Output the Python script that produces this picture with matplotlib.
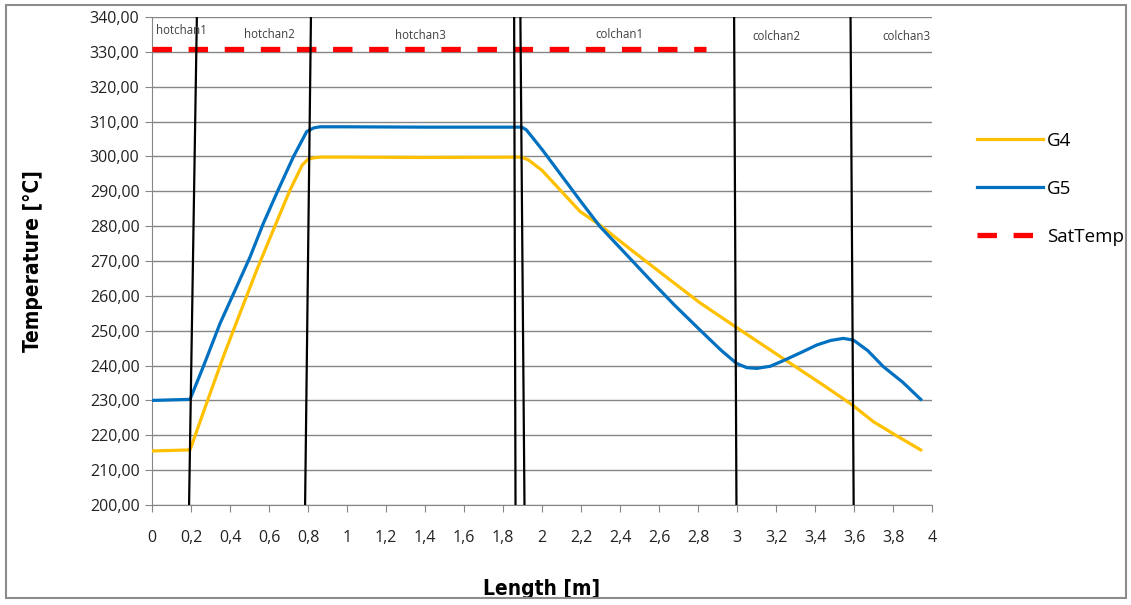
import matplotlib
matplotlib.use("Agg")
import matplotlib.pyplot as plt
from matplotlib.patches import Rectangle
from matplotlib.ticker import MultipleLocator, FuncFormatter

plt.rcParams['font.family'] = ['Open Sans', 'DejaVu Sans']
plt.rcParams['lines.scale_dashes'] = False

# axial temperature profiles along the test section
g4_x = [0, 0.195, 0.28, 0.366, 0.451, 0.537, 0.622, 0.708, 0.77, 0.80, 0.83, 0.862,
        1.0, 1.4, 1.896, 1.93, 2.0, 2.195, 2.297, 2.45, 2.656, 2.81, 2.998, 3.237,
        3.45, 3.591, 3.699, 3.82, 3.942]
g4_y = [215.5, 215.8, 229.2, 242.6, 255.0, 267.4, 278.9, 290.4, 297.5, 299.2, 299.6, 299.8,
        299.8, 299.7, 299.8, 299.0, 296.0, 284.2, 280.3, 273.5, 264.6, 258.0, 250.9, 242.0,
        234.1, 228.7, 223.9, 219.8, 215.8]

g5_x = [0, 0.195, 0.263, 0.349, 0.434, 0.503, 0.571, 0.639, 0.725, 0.793, 0.83, 0.862,
        1.0, 1.4, 1.896, 1.92, 2.0, 2.1, 2.2, 2.297, 2.43, 2.554, 2.68, 2.81, 2.92,
        2.998, 3.05, 3.101, 3.17, 3.237, 3.33, 3.409, 3.48, 3.545, 3.597, 3.67, 3.75,
        3.85, 3.942]
g5_y = [230.0, 230.3, 239.7, 252.1, 262.6, 271.2, 280.8, 289.4, 299.9, 307.1, 308.2, 308.5,
        308.5, 308.4, 308.4, 307.6, 302.0, 294.5, 287.0, 279.9, 272.0, 264.6, 257.3, 250.2, 244.3,
        240.6, 239.4, 239.2, 239.8, 241.4, 243.8, 245.9, 247.2, 247.8, 247.3, 244.3, 239.7,
        235.2, 230.3]

sat_x = [0, 2.84]
sat_y = [330.7, 330.7]

# channel boundaries (x at 200 °C and at 340 °C)
bound_lo = [0.19, 0.785, 1.864, 1.91, 2.997, 3.598]
bound_hi = [0.23, 0.815, 1.857, 1.889, 2.985, 3.582]

chan_names = ['hotchan1', 'hotchan2', 'hotchan3', 'colchan1', 'colchan2', 'colchan3']
chan_x = [0.151, 0.60, 1.377, 2.395, 3.2, 3.87]
chan_y = [336.0, 335.1, 334.7, 335.1, 334.5, 334.5]

fig = plt.figure(figsize=(11.31, 6.05), dpi=100)
ax = fig.add_axes([0.1344, 0.1653, 0.6897, 0.8066])

ax.plot(g4_x, g4_y, color='#FFC000', lw=2.3, label='G4', zorder=3)
ax.plot(g5_x, g5_y, color='#0070C0', lw=2.3, label='G5', zorder=3)
ax.plot(sat_x, sat_y, color='#FF0000', lw=3.8, dashes=(14, 12), label='SatTemp', zorder=3)

for lo, hi in zip(bound_lo, bound_hi):
    ax.plot([lo, hi], [200, 340], color='black', lw=1.6, zorder=4)

for name, x, y in zip(chan_names, chan_x, chan_y):
    ax.text(x, y, name, fontsize=8.3, color='#404040', ha='center', va='center', zorder=5)

ax.set_xlim(0, 4)
ax.set_ylim(200, 340)
ax.xaxis.set_major_locator(MultipleLocator(0.2))
ax.yaxis.set_major_locator(MultipleLocator(10))
ax.xaxis.set_major_formatter(FuncFormatter(lambda v, p: ('%g' % round(v, 1)).replace('.', ',')))
ax.yaxis.set_major_formatter(FuncFormatter(lambda v, p: ('%.2f' % v).replace('.', ',')))

ax.grid(axis='y', color='#868686', lw=1.0)
ax.set_axisbelow(True)
for side in ['top', 'right']:
    ax.spines[side].set_visible(False)
for side in ['left', 'bottom']:
    ax.spines[side].set_color('#868686')
ax.tick_params(axis='both', color='#868686', length=5, labelsize=11.5, labelcolor='#222222')
ax.tick_params(axis='x', pad=13)
ax.tick_params(axis='y', pad=4)

label_font = dict(family=['DejaVu Sans'], fontstretch='condensed', fontweight='bold', fontsize=15)
ax.set_xlabel('Length [m]', labelpad=24, **label_font)
ax.set_ylabel('Temperature [°C]', labelpad=34, **label_font)

fig.legend(loc='upper left', bbox_to_anchor=(0.8638, 0.782), frameon=False,
           borderpad=0, borderaxespad=0, handlelength=3.5, handletextpad=0.25,
           labelspacing=1.6, fontsize=13.5)

fig.patches.append(Rectangle((0.005, 0.011), 0.991, 0.98, transform=fig.transFigure,
                             fill=False, edgecolor='#8c8c8c', lw=1.5))

fig.savefig('out.png', dpi=100)
